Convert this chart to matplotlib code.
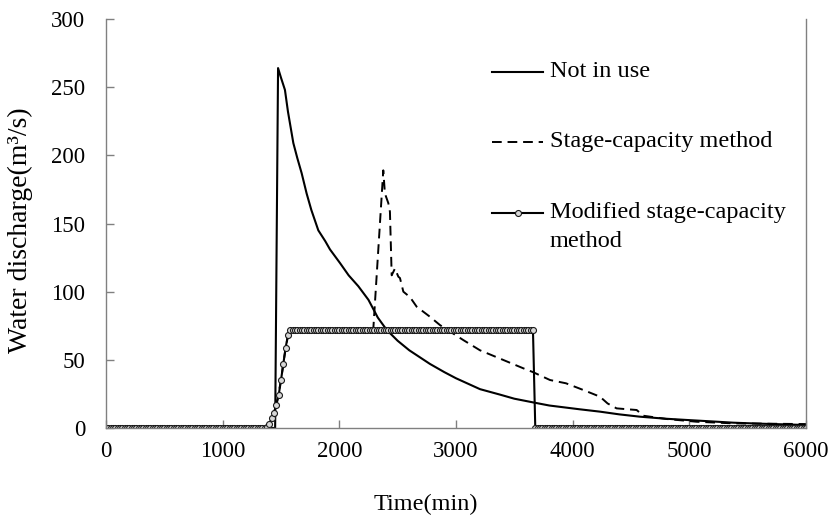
import matplotlib
matplotlib.use('Agg')
import matplotlib.pyplot as plt
import numpy as np

plt.rcParams['font.family'] = ['Liberation Serif', 'DejaVu Serif']

# Not in use (no reservoir operation)
t_none = [0, 1450, 1475, 1500, 1534, 1560, 1606, 1640, 1677, 1720, 1760, 1820,
          1880, 1920, 2006, 2080, 2163, 2250, 2330, 2406, 2500, 2600, 2777,
          2900, 3000, 3206, 3377, 3500, 3660, 3800, 4063, 4234, 4400, 4577,
          4800, 4977, 5200, 5377, 5600, 5800, 6000]
q_none = [0, 0, 264, 257, 248, 232, 209, 198, 187, 172, 160, 145,
          137, 131, 121, 112, 104, 94, 81, 72, 64, 57, 47,
          41, 36.5, 28.5, 24.5, 21.5, 18.8, 16.5, 13.7, 12, 10, 8.3,
          6.8, 5.9, 4.8, 3.9, 3.2, 2.7, 2.2]

# Stage-capacity method
t_stage = [0, 1350, 1380, 1410, 1440, 1470, 1500, 1530, 1560, 1600, 2291,
           2377, 2391, 2420, 2434, 2449, 2477, 2506, 2520, 2549, 2606, 2663,
           2777, 2863, 3063, 3206, 3406, 3577, 3660, 3806, 3943, 4091, 4234,
           4300, 4377, 4549, 4606, 4806, 5063, 5377, 5974, 6000]
q_stage = [0, 0, 0.5, 4, 11, 21, 35, 53, 68, 72, 72,
           189, 172, 165, 158.6, 112, 117, 111, 110, 100, 96, 89,
           81.6, 75.5, 64.5, 57, 49.9, 43.8, 41, 35.2, 32.8, 27.9, 23,
           18, 14.4, 13.2, 9.0, 6.6, 4.6, 3.4, 2.9, 2.9]

# Modified stage-capacity method, 20 min steps
t_mod = np.arange(0, 6001, 20)
q_mod = ([0] * 69
         + [0.5, 3, 7, 11, 17, 24, 35, 47, 59, 68, 72]
         + [72] * 104
         + [0] * 117)

fs = 16.5
mk = dict(marker='o', ms=4.3, mfc='#d8d8d8', mec='#1a1a1a', mew=0.8)

fig = plt.figure(figsize=(8.3, 5.24), dpi=100)
ax = fig.add_axes([0.1277, 0.1832, 0.8433, 0.7805])

ax.plot(t_none, q_none, color='black', lw=1.5)
ax.plot(t_stage, q_stage, color='black', lw=1.4, ls=(0, (5, 3)))
ax.plot(t_mod, q_mod, color='black', lw=1.5, **mk)

ax.set_xlim(0, 6000)
ax.set_ylim(0, 300)
ax.set_xticks(range(0, 6001, 1000))
ax.set_yticks(range(0, 301, 50))
ax.tick_params(direction='in', length=6, width=1, color='#808080',
               labelsize=fs)
ax.tick_params(axis='x', pad=9)
ax.tick_params(axis='y', pad=15)
ax.spines['top'].set_visible(False)
for s in ['left', 'bottom', 'right']:
    ax.spines[s].set_color('#808080')
    ax.spines[s].set_linewidth(1)

ax.set_xlabel('Time(min)', fontsize=17.5)
ax.set_ylabel('Water discharge(m³/s)', fontsize=20)
ax.xaxis.set_label_coords(0.457, -0.16)
ax.yaxis.set_label_coords(-0.104, 0.484)

# legend drawn by hand so the handles sit on the first text line
tr = ax.transAxes
ax.plot([0.551, 0.625], [0.871, 0.871], color='black', lw=1.5, transform=tr)
ax.plot([0.551, 0.625], [0.700, 0.700], color='black', lw=1.4,
        ls=(0, (5, 3)), transform=tr)
ax.plot([0.551, 0.625], [0.526, 0.526], color='black', lw=1.5, transform=tr)
ax.plot([0.588], [0.526], transform=tr, **mk)
ax.text(0.634, 0.871, 'Not in use', transform=tr, fontsize=17.5, va='center')
ax.text(0.634, 0.700, 'Stage-capacity method', transform=tr, fontsize=17.5,
        va='center')
ax.text(0.634, 0.526, 'Modified stage-capacity', transform=tr, fontsize=17.5,
        va='center')
ax.text(0.634, 0.4555, 'method', transform=tr, fontsize=17.5, va='center')

fig.savefig('out.png', dpi=100)
